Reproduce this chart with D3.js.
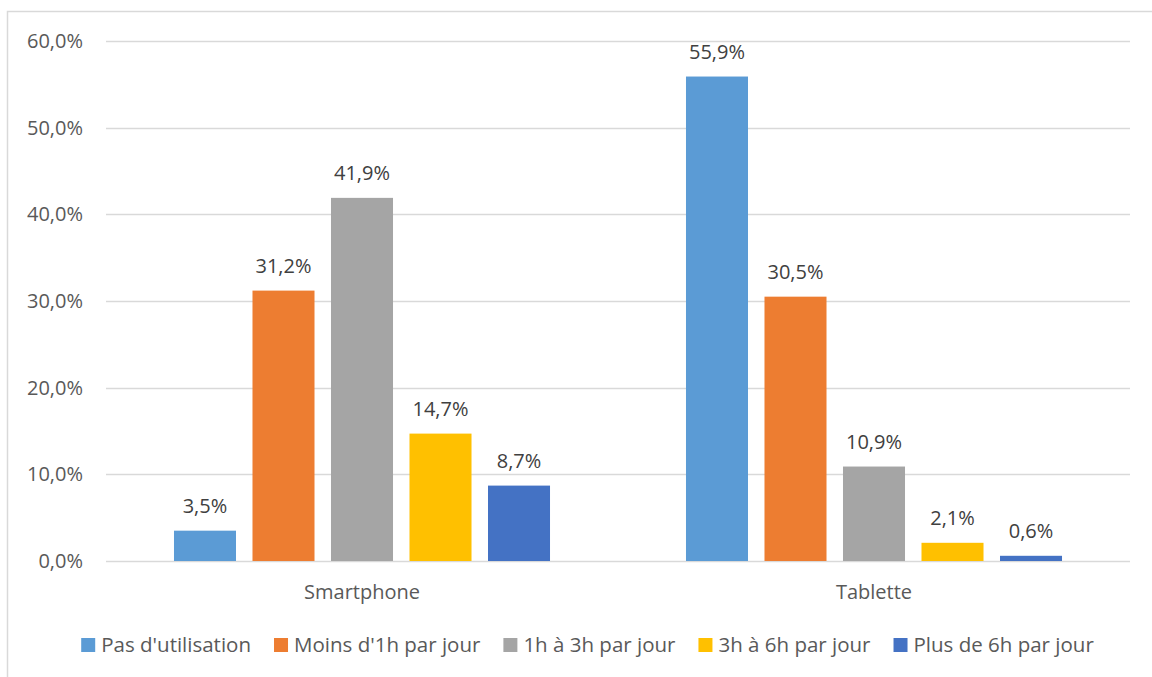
<!DOCTYPE html>
<html>
<head>
<meta charset="utf-8">
<script src="https://cdn.jsdelivr.net/npm/d3@7"></script>
<style>
  body { margin: 0; background: #fff; }
  svg { display: block; font-family: "Open Sans", sans-serif; }
</style>
</head>
<body>
<svg id="chart" width="1152" height="677"></svg>
<script>
// data
const categories = ["Smartphone", "Tablette"];
const seriesNames = ["Pas d'utilisation", "Moins d'1h par jour", "1h à 3h par jour", "3h à 6h par jour", "Plus de 6h par jour"];
const smartphoneValues = [3.5, 31.2, 41.9, 14.7, 8.7];
const tabletteValues = [55.9, 30.5, 10.9, 2.1, 0.6];
const yTicks = [0, 10, 20, 30, 40, 50, 60];
const colors = ["#5B9BD5", "#ED7D31", "#A5A5A5", "#FFC000", "#4472C4"];

const values = [smartphoneValues, tabletteValues];
const fmt = v => v.toFixed(1).replace(".", ",");
const fontSize = "20px";

const svg = d3.select("#chart");

// outer chart border (runs off the right/bottom edge)
svg.append("rect")
  .attr("x", 7.5).attr("y", 11.5)
  .attr("width", 1170).attr("height", 700)
  .attr("fill", "none")
  .attr("stroke", "#d9d9d9")
  .attr("stroke-width", 1.5);

const plot = { left: 106, right: 1130, top: 41, bottom: 561 };

const x = d3.scaleBand()
  .domain(categories)
  .range([plot.left, plot.right]);

const y = d3.scaleLinear()
  .domain([0, 60])
  .range([plot.bottom, plot.top]);

// bars within a category: width ~62, step ~78.5
const xs = d3.scaleBand()
  .domain(d3.range(seriesNames.length))
  .range([0, x.bandwidth()])
  .paddingInner(0.21)
  .paddingOuter(0.866);

// grid lines
svg.append("g")
  .selectAll("line")
  .data(yTicks)
  .enter()
  .append("line")
  .attr("x1", plot.left)
  .attr("x2", plot.right)
  .attr("y1", d => Math.round(y(d)) + 0.5)
  .attr("y2", d => Math.round(y(d)) + 0.5)
  .style("stroke", "#d9d9d9")
  .style("stroke-width", 1.5);

// y tick labels
svg.append("g")
  .selectAll("text")
  .data(yTicks)
  .enter()
  .append("text")
  .attr("x", 83)
  .attr("y", d => y(d))
  .attr("dy", "0.35em")
  .attr("text-anchor", "end")
  .style("font-size", fontSize)
  .style("fill", "#595959")
  .text(d => fmt(d) + "%");

// bars
const groups = svg.append("g")
  .selectAll("g")
  .data(categories)
  .enter()
  .append("g")
  .attr("transform", d => `translate(${x(d)},0)`);

groups.selectAll("rect")
  .data((d, i) => values[i].map((v, j) => ({ v, j })))
  .enter()
  .append("rect")
  .attr("x", d => xs(d.j))
  .attr("width", xs.bandwidth())
  .attr("y", d => y(d.v))
  .attr("height", d => y(0) - y(d.v))
  .attr("fill", d => colors[d.j]);

groups.selectAll("text")
  .data((d, i) => values[i].map((v, j) => ({ v, j })))
  .enter()
  .append("text")
  .attr("x", d => xs(d.j) + xs.bandwidth() / 2)
  .attr("y", d => y(d.v) - 18)
  .attr("text-anchor", "middle")
  .style("font-size", fontSize)
  .style("fill", "#404040")
  .text(d => fmt(d.v) + "%");

// category labels
svg.append("g")
  .selectAll("text")
  .data(categories)
  .enter()
  .append("text")
  .attr("x", d => x(d) + x.bandwidth() / 2)
  .attr("y", 599)
  .attr("text-anchor", "middle")
  .style("font-size", fontSize)
  .style("fill", "#595959")
  .text(d => d);

// legend
const legend = svg.append("g");
const items = legend.selectAll("g")
  .data(seriesNames)
  .enter()
  .append("g");

items.append("rect")
  .attr("width", 14).attr("height", 14)
  .attr("y", 638)
  .attr("fill", (d, i) => colors[i]);

items.append("text")
  .attr("x", 20)
  .attr("y", 652)
  .style("font-size", "20.5px")
  .style("fill", "#595959")
  .text(d => d);

// place legend items side by side, centred
const gap = 23;
let widths = [];
items.each(function () {
  widths.push(d3.select(this).select("text").node().getComputedTextLength() + 20);
});
const total = d3.sum(widths) + gap * (widths.length - 1);
let cx = (84 + 1091) / 2 - total / 2;
items.attr("transform", (d, i) => {
  const t = `translate(${cx},0)`;
  cx += widths[i] + gap;
  return t;
});
</script>
</body>
</html>
